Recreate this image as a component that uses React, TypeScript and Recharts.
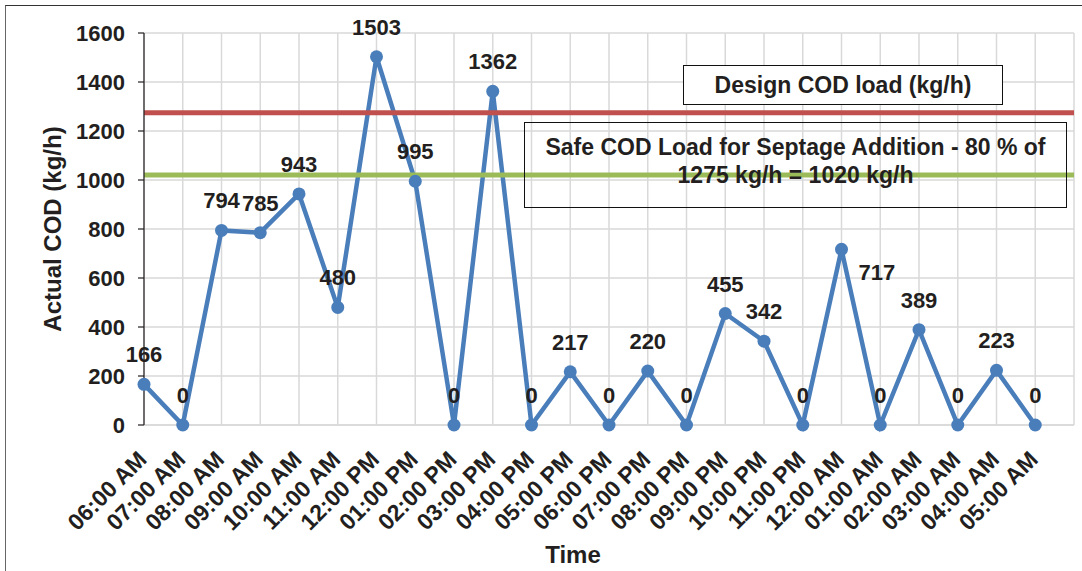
import { LineChart, Line, XAxis, YAxis, CartesianGrid, ReferenceLine, LabelList } from "recharts";

const times = [
  "06:00 AM", "07:00 AM", "08:00 AM", "09:00 AM", "10:00 AM", "11:00 AM",
  "12:00 PM", "01:00 PM", "02:00 PM", "03:00 PM", "04:00 PM", "05:00 PM",
  "06:00 PM", "07:00 PM", "08:00 PM", "09:00 PM", "10:00 PM", "11:00 PM",
  "12:00 AM", "01:00 AM", "02:00 AM", "03:00 AM", "04:00 AM", "05:00 AM",
];
const codValues = [
  166, 0, 794, 785, 943, 480, 1503, 995, 0, 1362, 0, 217,
  0, 220, 0, 455, 342, 0, 717, 0, 389, 0, 223, 0,
];
const designLoad = 1275;
const safeLoad = 1020;
const yTicks = [0, 200, 400, 600, 800, 1000, 1200, 1400, 1600];

const data = times.map((t, i) => ({ idx: i, time: t, cod: codValues[i] }));
const xTicks = Array.from({ length: times.length + 1 }, (_, i) => i);

const FONT = "'Liberation Sans', Arial, sans-serif";
const INK = "#231F20";
const BLUE = "#4A7EBB";

// label for 12:00 AM sits to the right of its point, like the source
const sideLabels = new Set(["12:00 AM"]);

function TimeTick(props: any) {
  const { x, y, payload } = props;
  const label = times[payload.value] ?? "";
  const ax = x + 4;
  const ay = y + 28;
  return (
    <text
      x={ax}
      y={ay}
      transform={`rotate(-45, ${ax}, ${ay})`}
      textAnchor="end"
      fontFamily={FONT}
      fontWeight="bold"
      fontSize={23}
      fill={INK}
    >
      {label}
    </text>
  );
}

function PointLabel(props: any) {
  const { x, y, value, index } = props;
  const side = sideLabels.has(times[index]);
  return (
    <text
      x={side ? x + 17 : x}
      y={side ? y + 31 : y - 22}
      textAnchor={side ? "start" : "middle"}
      fontFamily={FONT}
      fontWeight="bold"
      fontSize={22}
      fill={INK}
    >
      {value}
    </text>
  );
}

export default function App() {
  return (
    <div style={{ position: "absolute", left: 0, top: 0, width: 1082, height: 571, background: "#fff", overflow: "hidden", fontFamily: FONT }}>
      <div style={{ position: "absolute", left: 5, top: 5, width: 1100, height: 600, borderTop: "1.5px solid #333", borderLeft: "1.5px solid #666" }} />
      <LineChart width={1082} height={571} data={data} margin={{ top: 33, right: 8, bottom: 0, left: 0 }}>
        <CartesianGrid stroke="#D9D9D9" strokeWidth={1.5} />
        <XAxis
          dataKey="idx"
          type="number"
          domain={[0, 24]}
          ticks={xTicks}
          interval={0}
          height={146}
          tickLine={false}
          axisLine={{ stroke: "#D9D9D9", strokeWidth: 1.5 }}
          tick={<TimeTick />}
        />
        <YAxis
          domain={[0, 1600]}
          ticks={yTicks}
          width={144}
          tickSize={6}
          tickMargin={13}
          axisLine={{ stroke: INK, strokeWidth: 1.2 }}
          tickLine={{ stroke: INK, strokeWidth: 1.2 }}
          tick={{ fill: INK, fontSize: 22, fontWeight: "bold", fontFamily: FONT }}
        />
        <Line
          type="linear"
          dataKey="cod"
          stroke={BLUE}
          strokeWidth={4.5}
          dot={{ r: 6.5, fill: BLUE, stroke: BLUE, strokeWidth: 0 }}
          isAnimationActive={false}
        >
          <LabelList dataKey="cod" content={<PointLabel />} />
        </Line>
        <ReferenceLine y={designLoad} stroke="#C0504D" strokeWidth={5} />
        <ReferenceLine y={safeLoad} stroke="#9BBB59" strokeWidth={5} />
      </LineChart>

      <div
        style={{
          position: "absolute", left: 53, top: 229, transform: "translate(-50%, -50%) rotate(-90deg)",
          whiteSpace: "nowrap", fontSize: 24, fontWeight: "bold", color: INK,
        }}
      >
        Actual COD (kg/h)
      </div>
      <div
        style={{
          position: "absolute", left: 573, top: 555, transform: "translate(-50%, -50%)",
          whiteSpace: "nowrap", fontSize: 24, fontWeight: "bold", color: INK,
        }}
      >
        Time
      </div>

      <div
        style={{
          position: "absolute", left: 683, top: 65, width: 320, height: 40, boxSizing: "border-box",
          border: "1.5px solid #111", background: "#fff", display: "flex", alignItems: "center",
          justifyContent: "center", fontSize: 23, fontWeight: "bold", color: INK,
        }}
      >
        Design COD load (kg/h)
      </div>
      <div
        style={{
          position: "absolute", left: 524, top: 122, width: 543, height: 86, boxSizing: "border-box",
          border: "1.5px solid #111", paddingTop: 10, textAlign: "center", lineHeight: "28px",
          fontSize: 23, fontWeight: "bold", color: INK,
        }}
      >
        Safe COD Load for Septage Addition - 80 % of
        <br />
        {designLoad} kg/h = {safeLoad} kg/h
      </div>
    </div>
  );
}
